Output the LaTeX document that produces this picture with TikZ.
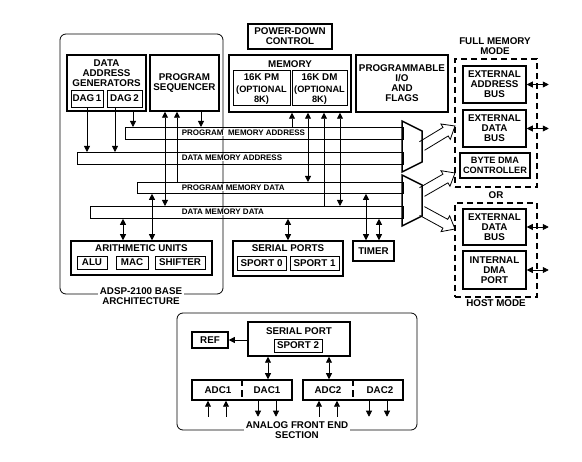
\documentclass[tikz,border=0pt]{standalone}
\usepackage{fontspec}
\setmainfont{Liberation Sans}
\usetikzlibrary{arrows.meta,calc}
\newcommand\fmain{\fontsize{9.8}{10}\selectfont\bfseries}
\newcommand\fsmall{\fontsize{9.2}{10}\selectfont\bfseries}
\newcommand\fbus{\fontsize{8}{9}\selectfont\bfseries}
\newcommand\hollowarr[2]{%
  \coordinate (hh) at ($(#2)!11pt!(#1)$);
  \draw[hollow] ($(#1)!5pt!90:(#2)$) -- ($(hh)!5pt!-90:(#1)$) -- ($(hh)!9pt!-90:(#1)$) -- (#2)
     -- ($(hh)!9pt!90:(#1)$) -- ($(hh)!5pt!90:(#1)$) -- ($(#1)!5pt!-90:(#2)$);}
\tikzset{
  blk/.style={draw, line width=1.5pt, inner sep=0pt, align=center, font=\fmain},
  sub/.style={draw, line width=0.9pt, inner sep=0pt, align=center, font=\fmain},
  sz/.style 2 args={minimum width=#1pt, minimum height=#2pt},
  bus/.style={draw, line width=0.8pt, inner sep=0pt, anchor=north west},
  buslbl/.style={font=\fbus, inner sep=0.6pt, fill=white, anchor=west},
  lbl/.style={font=\fmain, align=center, inner sep=0pt},
  con/.style={line width=0.8pt},
  dashbox/.style={draw, line width=1.5pt, dash pattern=on 6pt off 4pt, inner sep=0pt},
  hollow/.style={line width=0.8pt, line join=miter},
  >={Triangle[length=6pt,width=6pt]}
}
\begin{document}
\begin{tikzpicture}[x=1pt,y=-1pt]
\useasboundingbox (0,0) rectangle (582,462);

% base architecture frame
\node[draw, line width=0.8pt, rounded corners=6pt, sz={163}{260}] (base) at (141.5,164) {};

% buses
\node[bus, sz={278}{12}] (pma) at (125,127) {};
\node[bus, sz={326}{12}] (dma) at (77,152) {};
\node[bus, sz={266}{11}] (pmd) at (137,182) {};
\node[bus, sz={313}{12}] (dmd) at (90,206) {};
\node[buslbl] (pmal) at (181,133) {PROGRAM~~MEMORY ADDRESS};
\node[buslbl] (dmal) at (181,158) {DATA MEMORY ADDRESS};
\node[buslbl] (pmdl) at (181,187.5) {PROGRAM MEMORY DATA};
\node[buslbl] (dmdl) at (181,212) {DATA MEMORY DATA};

\node[fill=white, lbl, inner sep=1.5pt] (basel) at (141,296) {ADSP-2100 BASE\\ARCHITECTURE};

% top blocks
\node[blk, sz={79}{56}] (dag) at (106.5,83) {};
\node[lbl] (dagt) at (106.5,73) {DATA\\ADDRESS\\GENERATORS};
\node[sub, sz={32}{17}] (dag1) at (87,98.5) {DAG\,1};
\node[sub, sz={35}{17}] (dag2) at (124.5,98.5) {DAG\,2};
\node[blk, sz={69}{56}] (ps) at (184.5,83) {PROGRAM\\SEQUENCER};
\node[blk, sz={84}{25}] (pdc) at (290,36.5) {POWER-DOWN\\CONTROL};
\node[blk, sz={122}{57}] (mem) at (290,83.5) {};
\node[lbl] (memt) at (290,64) {MEMORY};
\node[sub, sz={57}{35}] (pm) at (261.5,87.5) {};
\node[lbl] (pmt) at (261.5,77) {16K PM};
\node[lbl, font=\fsmall] (pmo) at (261.5,94.8) {(OPTIONAL\\8K)};
\node[sub, sz={55}{35}] (dm) at (319.5,87.5) {};
\node[lbl] (dmt) at (319.5,77) {16K DM};
\node[lbl, font=\fsmall] (dmo) at (319.5,94.8) {(OPTIONAL\\8K)};
\node[blk, sz={92}{57}] (pio) at (402,83.5) {PROGRAMMABLE\\I/O\\AND\\FLAGS};

% right side
\node[lbl] (fmm) at (495,46) {FULL MEMORY\\MODE};
\node[dashbox, sz={82}{128}] (fbox) at (496,123) {};
\node[blk, sz={63}{37}] (eab) at (494.5,84.5) {EXTERNAL\\ADDRESS\\BUS};
\node[blk, sz={63}{37}] (edb1) at (494.5,128.5) {EXTERNAL\\DATA\\BUS};
\node[blk, sz={70}{25}, font=\fsmall] (bdma) at (495,165.5) {BYTE DMA\\CONTROLLER};
\node[lbl] (or) at (496,195) {OR};
\node[dashbox, sz={82}{94}] (hbox) at (496,250) {};
\node[blk, sz={63}{36}] (edb2) at (494.5,227) {EXTERNAL\\DATA\\BUS};
\node[blk, sz={63}{38}] (idma) at (494.5,270) {INTERNAL\\DMA\\PORT};
\node[lbl] (hm) at (496,303) {HOST MODE};

\draw[con,<->] (eab.east) -- ++(22,0) coordinate (e1);
\draw[con,<->] (edb1.east) -- ++(22,0) coordinate (e2);
\draw[con,<->] (edb2.east) -- ++(22,0) coordinate (e3);
\draw[con,<->] (idma.east) -- ++(22,0) coordinate (e4);

% lower blocks
\node[blk, sz={141}{34}] (au) at (141.5,258) {};
\node[lbl] (aut) at (141.5,248) {ARITHMETIC UNITS};
\node[sub, sz={30}{13}] (alu) at (92,262.5) {ALU};
\node[sub, sz={32}{13}] (mac) at (132,262.5) {MAC};
\node[sub, sz={50}{13}] (shf) at (180,262.5) {SHIFTER};
\node[blk, sz={110}{35}] (sp) at (288,258.5) {};
\node[lbl] (spt) at (288,248) {SERIAL PORTS};
\node[sub, sz={49}{14}] (sp0) at (261.5,263) {SPORT 0};
\node[sub, sz={49}{14}] (sp1) at (314.5,263) {SPORT 1};
\node[blk, sz={41}{20}] (timer) at (373.5,251) {TIMER};

% muxes
\coordinate (ma1) at (402,121); \coordinate (mb1) at (422,131);
\coordinate (mc1) at (422,162); \coordinate (md1) at (402,172);
\draw[line width=1.5pt, line join=miter] (ma1) -- (mb1) -- (mc1) -- (md1) -- cycle;
\coordinate (ma2) at (402,175); \coordinate (mb2) at (422,185);
\coordinate (mc2) at (422,216); \coordinate (md2) at (402,226);
\draw[line width=1.5pt, line join=miter] (ma2) -- (mb2) -- (mc2) -- (md2) -- cycle;

\coordinate (h1s) at (422,146); \coordinate (h1t) at (455,126);
\coordinate (h2s) at (422,192); \coordinate (h2t) at (455,173);
\coordinate (h3s) at (422,211); \coordinate (h3t) at (455,229);
\hollowarr{h1s}{h1t}
\hollowarr{h2s}{h2t}
\hollowarr{h3s}{h3t}

% connectors to buses
\draw[con,->] (dag1.south) -- (dag1.south |- dma.north);
\draw[con,->] ($(dag2.south)+(-9.5,0)$) coordinate (c4) -- (c4 |- dma.north);
\draw[con,->] ($(dag.south)+(26.5,0)$) coordinate (c5) -- (c5 |- pma.north);
\draw[con,<->] ($(ps.south)+(-19.5,0)$) coordinate (c1) -- (c1 |- dmd.north);
\draw[con,<-] ($(ps.south)+(-7.5,0)$) coordinate (c2) -- (c2 |- pmd.north);
\draw[con,->] ($(ps.south)+(16.5,0)$) coordinate (c3) -- (c3 |- pma.north);
\draw[con,<-] ($(mem.south)+(2,0)$) coordinate (m1) -- (m1 |- pma.north);
\draw[con,<->] ($(mem.south)+(18,0)$) coordinate (m2) -- (m2 |- pmd.north);
\draw[con,<-] ($(mem.south)+(34,0)$) coordinate (m3) -- (m3 |- dmd.north);
\draw[con,<->] ($(mem.south)+(50,0)$) coordinate (m4) -- (m4 |- dmd.north);
\draw[con,<->] ($(timer.north)+(-7.5,0)$) coordinate (t1) -- (t1 |- pmd.south);
\draw[con,<->] ($(timer.north)+(5.5,0)$) coordinate (t2) -- (t2 |- dmd.south);
\draw[con,<->] (sp.north) -- (sp.north |- dmd.south);
\draw[con,<->] ($(au.north)+(-18.5,0)$) coordinate (u1) -- (u1 |- dmd.south);
\draw[con,<->] ($(au.north)+(10.5,0)$) coordinate (u2) -- (u2 |- pmd.south);

% analog front end
\node[draw, line width=0.8pt, rounded corners=6pt, sz={240}{117}] (afe) at (297,371.5) {};
\node[fill=white, lbl, inner sep=1.5pt] (afel) at (297,430) {ANALOG FRONT END\\SECTION};
\node[blk, sz={102}{34}] (sp2) at (299,339) {};
\node[lbl] (sp2t) at (299,331) {SERIAL PORT};
\node[sub, sz={48}{13}] (sport2) at (298,345.5) {SPORT 2};
\node[blk, sz={36}{16}] (ref) at (210,340) {REF};
\node[blk, sz={100}{20}] (ad1) at (242,390) {};
\node[blk, sz={100}{20}] (ad2) at (353,390) {};
\draw[line width=1.5pt, dash pattern=on 7pt off 4pt] (ad1.north) -- (ad1.south);
\draw[line width=1.5pt, dash pattern=on 7pt off 4pt] (ad2.north) -- (ad2.south);
\node[lbl] (adc1) at (218,390) {ADC1};
\node[lbl] (dac1) at (267,390) {DAC1};
\node[lbl] (adc2) at (328,390) {ADC2};
\node[lbl] (dac2) at (380,390) {DAC2};
\draw[con,->] (ref.east -| sp2.west) -- (ref.east);
\draw[con,<->] ($(sp2.south)+(-31,0)$) coordinate (a1) -- (a1 |- ad1.north);
\draw[con,<->] ($(sp2.south)+(30,0)$) coordinate (a2) -- (a2 |- ad2.north);
\foreach \dx in {-34,-16} {
  \draw[con,<-] ($(ad1.south)+(\dx,0)$) -- ++(0,16);
  \draw[con,<-] ($(ad2.south)+(\dx,0)$) -- ++(0,16);
}
\foreach \dx in {16,34} {
  \draw[con,->] ($(ad1.south)+(\dx,0)$) -- ++(0,16);
  \draw[con,->] ($(ad2.south)+(\dx,0)$) -- ++(0,16);
}
\end{tikzpicture}
\end{document}
